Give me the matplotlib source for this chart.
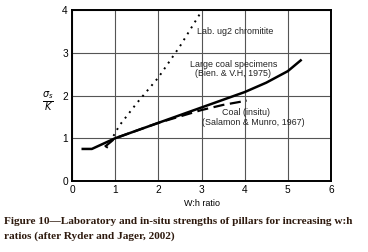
import matplotlib.pyplot as plt

# Curves (w:h ratio vs sigma_s/K)
coal_lab_x = [0.22, 0.46, 1.0, 2.0, 3.0, 4.0, 4.5, 5.0, 5.32]
coal_lab_y = [0.75, 0.75, 1.0, 1.36, 1.72, 2.08, 2.3, 2.57, 2.84]

coal_insitu_x = [0.76, 1.0, 2.0, 3.0, 3.5, 4.05]
coal_insitu_y = [0.8, 1.0, 1.36, 1.66, 1.78, 1.88]

ug2_x = [0.8, 1.1, 1.5, 2.0, 2.5, 3.0]
ug2_y = [0.77, 1.3, 1.82, 2.42, 3.15, 3.97]

x_ticks = [0, 1, 2, 3, 4, 5, 6]
y_ticks = [0, 1, 2, 3, 4]

fig = plt.figure(figsize=(3.68, 2.52), dpi=100)
ax = fig.add_axes([72 / 368, 1 - 181 / 252, 259 / 368, 171 / 252])

ax.plot(coal_lab_x, coal_lab_y, color='black', lw=1.8, solid_capstyle='butt')
ax.plot(coal_insitu_x, coal_insitu_y, color='black', lw=1.6, dashes=(5, 2.5))
ax.plot(ug2_x, ug2_y, color='black', lw=1.4, linestyle=(0, (1, 2.6)))

ax.set_xlim(0, 6)
ax.set_ylim(0, 4)
ax.set_xticks(x_ticks)
ax.set_yticks(y_ticks)
ax.grid(True, color='#555555', lw=0.8)
ax.set_axisbelow(True)
for s in ax.spines.values():
    s.set_linewidth(1.4)
ax.tick_params(length=0, pad=3, labelsize=7.3)
for lab in ax.get_xticklabels() + ax.get_yticklabels():
    lab.set_fontfamily('Liberation Sans')

txt = dict(fontsize=6.4, family='Liberation Sans', color='#222222')
ax.text(2.9, 3.49, 'Lab. ug2 chromitite', ha='left', va='center', **txt)
ax.text(3.74, 2.73, 'Large coal specimens', ha='center', va='center', **txt)
ax.text(3.74, 2.51, '(Bien. & V.H, 1975)', ha='center', va='center', **txt)
ax.text(4.02, 1.6, 'Coal (insitu)', ha='center', va='center', **txt)
ax.text(4.2, 1.37, '(Salamon & Munro, 1967)', ha='center', va='center', **txt)

ax.set_xlabel('W:h ratio', fontsize=6.5, family='Liberation Sans', labelpad=3)
fig.text(48 / 368, 1 - 101 / 252, r'$\frac{\sigma_s}{K}$', fontsize=10,
         ha='center', va='center')

cap = dict(fontsize=8.1, family='Liberation Serif', weight='bold',
           color='#2e1a0e', ha='left', va='center')
fig.text(4 / 368, 1 - 222 / 252,
         'Figure 10\u2014Laboratory and in-situ strengths of pillars for increasing w:h',
         **cap)
fig.text(4 / 368, 1 - 236 / 252, 'ratios (after Ryder and Jager, 2002)', **cap)

fig.savefig('out.png', dpi=100)
